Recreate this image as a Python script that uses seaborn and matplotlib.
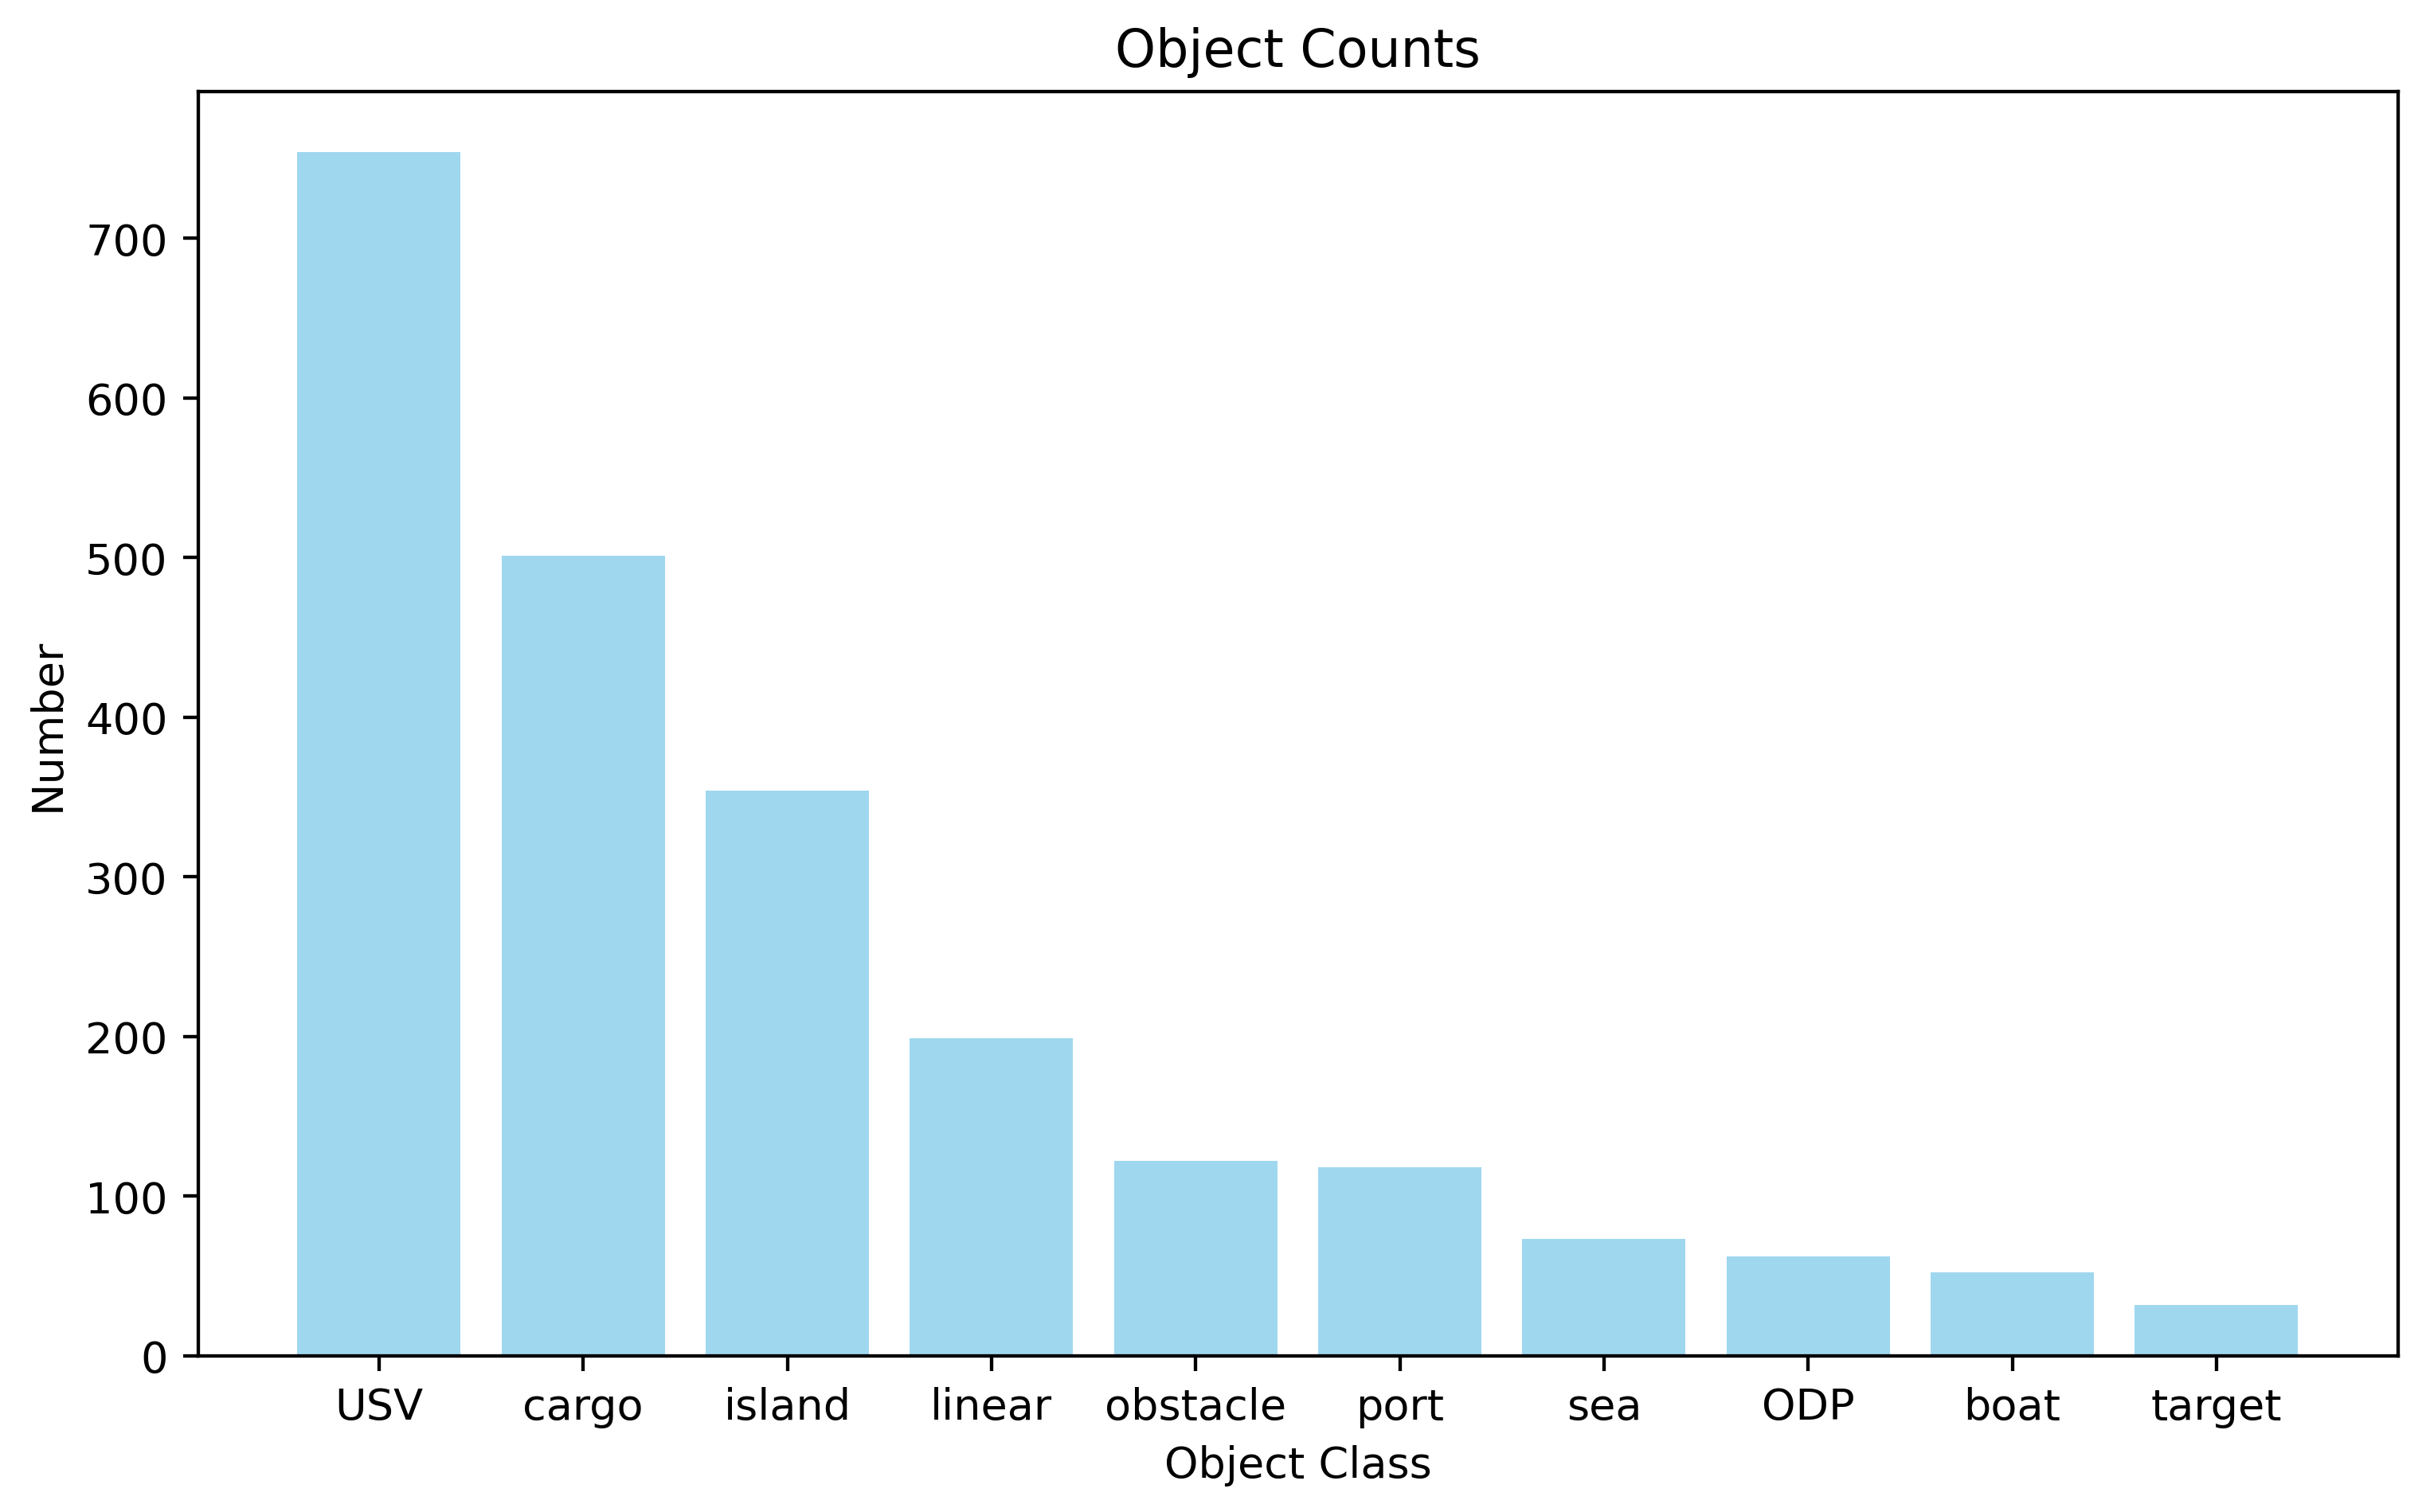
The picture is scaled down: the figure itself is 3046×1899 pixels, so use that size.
import pandas as pd
import seaborn as sns
import matplotlib.pyplot as plt

classes = ['USV', 'cargo', 'island', 'linear', 'obstacle', 'port', 'sea', 'ODP', 'boat', 'target']
counts = [754, 501, 354, 199, 122, 118, 73, 62, 52, 32]

df = pd.DataFrame({'Object Class': classes, 'Number': counts})

# drawn at 390 dpi so text and lines come out at the reference's scale
fig = plt.figure(figsize=(3046 / 390, 1900 / 390), dpi=390)
ax = fig.add_axes([0.0816, 0.1033, 0.9069, 0.8354])
sns.barplot(x='Object Class', y='Number', data=df, color='skyblue', alpha=0.8,
            saturation=1, width=0.8, ax=ax)
ax.set_title('Object Counts')
ax.set_xlabel('Object Class')
ax.set_ylabel('Number')
ax.set_xlim(-0.887, 9.89)
fig.savefig('out.png', dpi=390)
